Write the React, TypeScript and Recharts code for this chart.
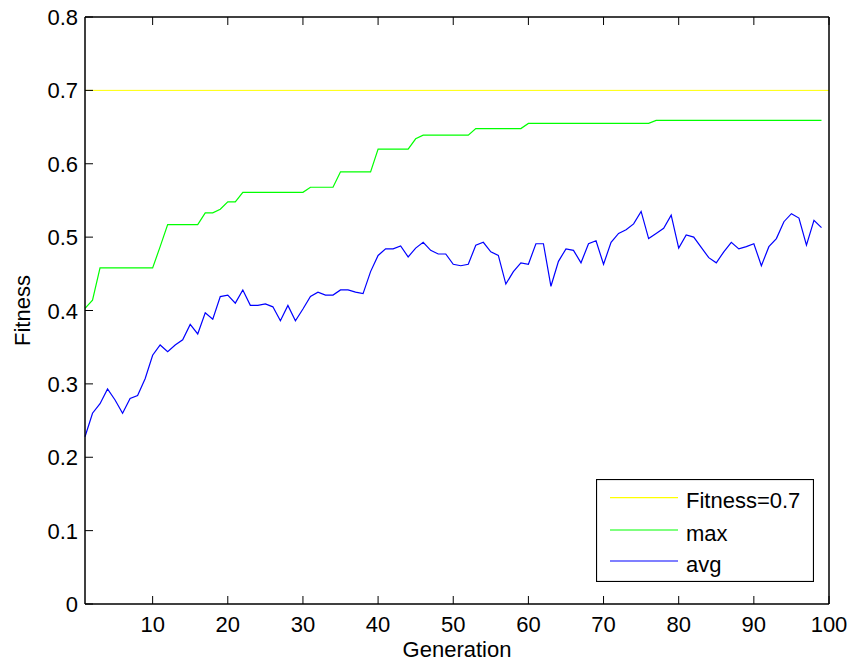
import { LineChart, Line, XAxis, YAxis, ReferenceLine, Label } from "recharts"

const FONT = '"Liberation Sans", Arial, Helvetica, sans-serif'
const FS = 22

const fitnessTarget = 0.7

const maxFitness = [
  0.403, 0.414, 0.458, 0.458, 0.458, 0.458, 0.458, 0.458, 0.458, 0.458,
  0.487, 0.517, 0.517, 0.517, 0.517, 0.517, 0.533, 0.533, 0.538, 0.548,
  0.548, 0.561, 0.561, 0.561, 0.561, 0.561, 0.561, 0.561, 0.561, 0.561,
  0.568, 0.568, 0.568, 0.568, 0.589, 0.589, 0.589, 0.589, 0.589, 0.62,
  0.62, 0.62, 0.62, 0.62, 0.634, 0.639, 0.639, 0.639, 0.639, 0.639,
  0.639, 0.639, 0.648, 0.648, 0.648, 0.648, 0.648, 0.648, 0.648, 0.655,
  0.655, 0.655, 0.655, 0.655, 0.655, 0.655, 0.655, 0.655, 0.655, 0.655,
  0.655, 0.655, 0.655, 0.655, 0.655, 0.655, 0.659, 0.659, 0.659, 0.659,
  0.659, 0.659, 0.659, 0.659, 0.659, 0.659, 0.659, 0.659, 0.659, 0.659,
  0.659, 0.659, 0.659, 0.659, 0.659, 0.659, 0.659, 0.659, 0.659,
]

const avgFitness = [
  0.228, 0.26, 0.273, 0.293, 0.278, 0.26, 0.28, 0.284, 0.307, 0.339,
  0.353, 0.344, 0.353, 0.36, 0.381, 0.368, 0.397, 0.388, 0.419, 0.421,
  0.41, 0.428, 0.407, 0.407, 0.409, 0.405, 0.386, 0.407, 0.386, 0.402,
  0.419, 0.425, 0.421, 0.421, 0.428, 0.428, 0.425, 0.423, 0.453, 0.475,
  0.484, 0.484, 0.488, 0.473, 0.485, 0.493, 0.482, 0.477, 0.477, 0.463,
  0.461, 0.463, 0.489, 0.493, 0.48, 0.475, 0.436, 0.453, 0.465, 0.463,
  0.491, 0.491, 0.433, 0.467, 0.484, 0.482, 0.465, 0.491, 0.495, 0.463,
  0.493, 0.505, 0.51, 0.518, 0.535, 0.498, 0.505, 0.512, 0.53, 0.485,
  0.503, 0.5, 0.486, 0.472, 0.465, 0.48, 0.493, 0.484, 0.487, 0.491,
  0.461, 0.487, 0.498, 0.521, 0.532, 0.526, 0.489, 0.523, 0.513,
]

const xTicks = [10, 20, 30, 40, 50, 60, 70, 80, 90, 100]
const yTicks = [0, 0.1, 0.2, 0.3, 0.4, 0.5, 0.6, 0.7, 0.8]

const legendItems = [
  { name: "Fitness=0.7", color: "#ffff00" },
  { name: "max", color: "#00ff00" },
  { name: "avg", color: "#0000ff" },
]

const data = maxFitness.map((m, i) => ({ gen: i + 1, max: m, avg: avgFitness[i] }))

const TICK = 8

function BottomTick({ x, y, payload }: any) {
  return (
    <g>
      <line x1={x} y1={y} x2={x} y2={y - TICK} stroke="#000" />
      <text x={x} y={y + 28} textAnchor="middle" fontSize={FS} fontFamily={FONT} fill="#000">
        {payload.value}
      </text>
    </g>
  )
}

function TopTick({ x, y }: any) {
  return <line x1={x} y1={y} x2={x} y2={y + TICK} stroke="#000" />
}

function LeftTick({ x, y, payload }: any) {
  return (
    <g>
      <line x1={x} y1={y} x2={x + TICK} y2={y} stroke="#000" />
      <text x={x - 7} y={y + 8} textAnchor="end" fontSize={FS} fontFamily={FONT} fill="#000">
        {String(payload.value)}
      </text>
    </g>
  )
}

function RightTick({ x, y }: any) {
  return <line x1={x} y1={y} x2={x - TICK} y2={y} stroke="#000" />
}

function LegendBox() {
  const rows = [18.7, 51, 82]
  return (
    <svg
      width={218}
      height={103}
      style={{ position: "absolute", left: 596, top: 479, display: "block" }}
    >
      <rect x={0.5} y={0.5} width={217} height={102} fill="#fff" stroke="#000" strokeWidth={1.2} />
      {legendItems.map((it, i) => (
        <g key={it.name}>
          <line x1={14} y1={rows[i]} x2={82} y2={rows[i]} stroke={it.color} strokeWidth={1.2} />
          <text x={90} y={rows[i] + 10.5} fontSize={FS} fontFamily={FONT} fill="#000">
            {it.name}
          </text>
        </g>
      ))}
    </svg>
  )
}

export default function App() {
  return (
    <div style={{ position: "relative", width: 852, height: 661, background: "#fff" }}>
      <style>{`body{margin:0;background:#fff}`}</style>
      <LineChart width={852} height={661} data={data} margin={{ top: 0, right: 0, bottom: 0, left: 0 }}>
        <XAxis
          xAxisId="b"
          dataKey="gen"
          type="number"
          domain={[1, 100]}
          ticks={xTicks}
          height={57}
          tickSize={0}
          tickMargin={0}
          tickLine={false}
          tick={<BottomTick />}
          axisLine={{ stroke: "#000", strokeWidth: 1.5 }}
          interval={0}
        >
          <Label
            content={({ viewBox }: any) => (
              <text
                x={viewBox.x + viewBox.width / 2}
                y={viewBox.y + 53}
                textAnchor="middle"
                fontSize={FS}
                fontFamily={FONT}
                fill="#000"
              >
                Generation
              </text>
            )}
          />
        </XAxis>
        <XAxis
          xAxisId="t"
          orientation="top"
          dataKey="gen"
          type="number"
          domain={[1, 100]}
          ticks={xTicks}
          height={17}
          tickSize={0}
          tickMargin={0}
          tickLine={false}
          tick={<TopTick />}
          axisLine={{ stroke: "#000", strokeWidth: 1.5 }}
          interval={0}
        />
        <YAxis
          yAxisId="l"
          type="number"
          domain={[0, 0.8]}
          ticks={yTicks}
          width={85}
          tickSize={0}
          tickMargin={0}
          tickLine={false}
          tick={<LeftTick />}
          axisLine={{ stroke: "#000", strokeWidth: 1.5 }}
          interval={0}
        >
          <Label
            content={({ viewBox }: any) => {
              const cy = viewBox.y + viewBox.height / 2
              return (
                <text
                  x={30}
                  y={cy}
                  transform={`rotate(-90, 30, ${cy})`}
                  textAnchor="middle"
                  fontSize={FS}
                  fontFamily={FONT}
                  fill="#000"
                >
                  Fitness
                </text>
              )
            }}
          />
        </YAxis>
        <YAxis
          yAxisId="r"
          orientation="right"
          type="number"
          domain={[0, 0.8]}
          ticks={yTicks}
          width={23}
          tickSize={0}
          tickMargin={0}
          tickLine={false}
          tick={<RightTick />}
          axisLine={{ stroke: "#000", strokeWidth: 1.5 }}
          interval={0}
        />
        <ReferenceLine xAxisId="b" yAxisId="l" y={fitnessTarget} stroke="#ffff00" strokeWidth={1} />
        <Line
          xAxisId="b"
          yAxisId="l"
          type="linear"
          dataKey="max"
          stroke="#00ff00"
          strokeWidth={1.2}
          dot={false}
          isAnimationActive={false}
        />
        <Line
          xAxisId="b"
          yAxisId="l"
          type="linear"
          dataKey="avg"
          stroke="#0000ff"
          strokeWidth={1.2}
          dot={false}
          isAnimationActive={false}
        />
      </LineChart>
      <LegendBox />
    </div>
  )
}
